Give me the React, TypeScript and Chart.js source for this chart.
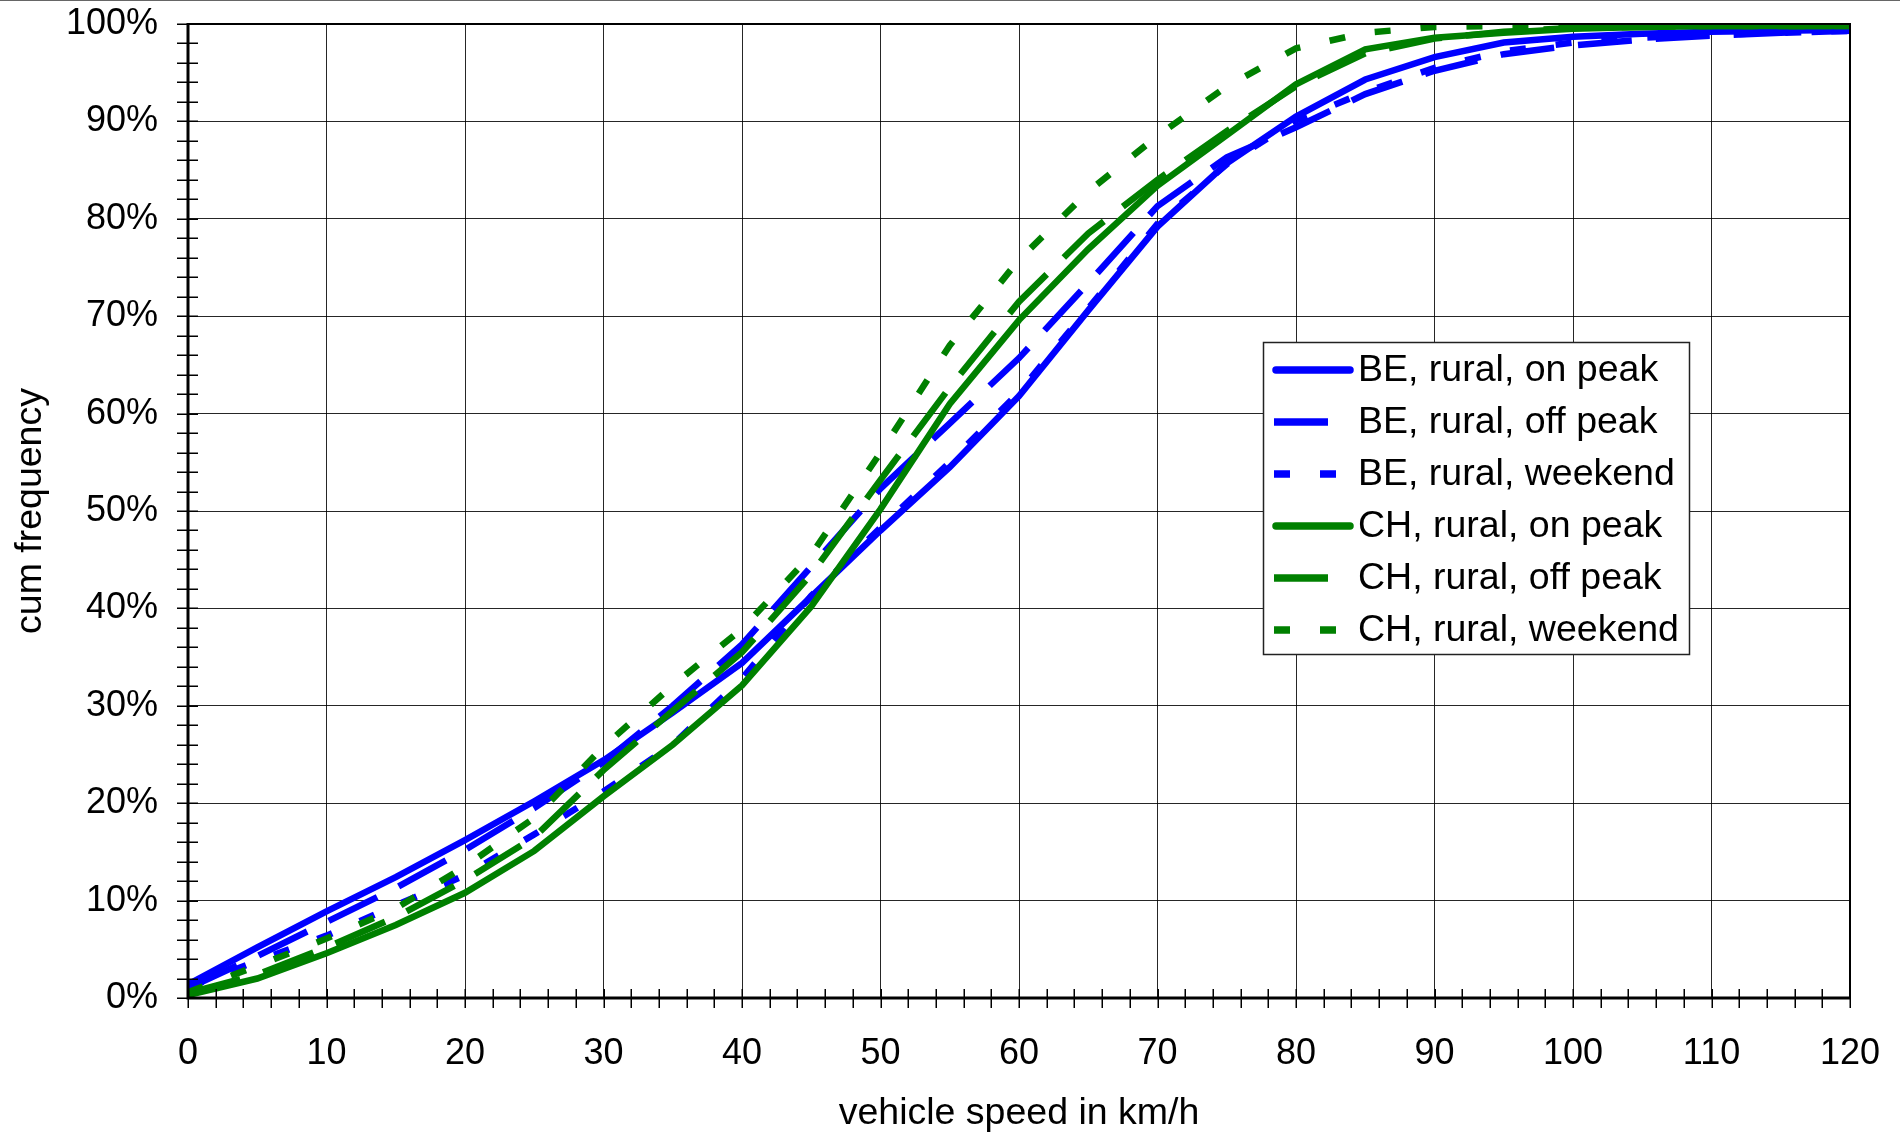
import React, { useEffect, useRef } from 'react';
import { Chart, registerables } from 'chart.js';

Chart.register(...registerables);

// ---- data (cumulative frequency in %, per vehicle speed in km/h) ----
const speeds = [0, 5, 10, 15, 20, 25, 30, 35, 40, 45, 50, 55, 60, 65, 70, 75, 80, 85, 90, 95, 100, 105, 110, 115, 120];

const beRuralOnPeak = [1.4, 5.2, 8.9, 12.4, 16.2, 20.2, 24.4, 29.3, 34.4, 41.2, 48.0, 54.5, 61.8, 70.6, 79.2, 85.7, 90.5, 94.3, 96.6, 98.1, 98.7, 99.0, 99.2, 99.3, 99.4];
const beRuralOffPeak = [1.0, 4.3, 7.8, 11.3, 15.2, 19.5, 24.2, 30.0, 36.3, 44.3, 52.3, 59.0, 65.7, 73.4, 81.3, 86.3, 89.4, 92.8, 95.2, 96.9, 97.8, 98.4, 98.8, 99.1, 99.3];
const beRuralWeekend = [1.1, 3.8, 6.4, 9.5, 12.6, 16.8, 21.2, 26.0, 32.8, 41.3, 48.3, 55.0, 62.2, 70.8, 79.5, 85.6, 90.1, 93.0, 95.5, 97.2, 98.1, 98.6, 98.9, 99.1, 99.3];
const chRuralOnPeak = [0.3, 2.0, 4.6, 7.5, 10.8, 15.1, 20.7, 26.0, 32.1, 40.2, 50.2, 61.0, 69.6, 76.9, 83.4, 88.6, 93.8, 97.4, 98.6, 99.1, 99.5, 99.7, 99.8, 99.8, 99.8];
const chRuralOffPeak = [0.5, 2.4, 5.2, 8.3, 12.1, 16.5, 23.4, 29.5, 35.5, 43.5, 53.2, 62.7, 71.5, 78.5, 84.0, 89.0, 93.6, 97.0, 98.5, 99.2, 99.6, 99.7, 99.8, 99.8, 99.8];
const chRuralWeekend = [0.6, 3.3, 6.1, 9.2, 13.5, 18.5, 25.8, 32.1, 37.9, 45.5, 56.0, 67.0, 75.8, 82.8, 88.5, 93.6, 97.5, 99.1, 99.7, 99.8, 99.8, 99.8, 99.8, 99.8, 99.8];

const seriesLabels = [
  'BE, rural, on peak',
  'BE, rural, off peak',
  'BE, rural, weekend',
  'CH, rural, on peak',
  'CH, rural, off peak',
  'CH, rural, weekend',
];
const seriesValues = [beRuralOnPeak, beRuralOffPeak, beRuralWeekend, chRuralOnPeak, chRuralOffPeak, chRuralWeekend];
const seriesColors = ['#0000ff', '#0000ff', '#0000ff', '#008000', '#008000', '#008000'];
const seriesDash = [[], [54, 24], [16, 30], [], [54, 24], [16, 30]];

const xMin = 0;
const xMax = 120;
const xMajorStep = 10;
const xMinorStep = 2;
const yMin = 0;
const yMax = 100;
const yMajorStep = 10;
const yMinorStep = 2;

const xTitle = 'vehicle speed in km/h';
const yTitle = 'cum frequency';

const FONT = "'Liberation Sans', Arial, Helvetica, sans-serif";

const framePlugin = {
  id: 'frameTicks',
  afterDatasetsDraw(chart: any) {
    const { ctx, chartArea: a, scales } = chart;
    const xs = scales.x;
    const ys = scales.y;
    ctx.save();
    ctx.strokeStyle = '#000';
    ctx.lineWidth = 1.5;
    ctx.beginPath();
    for (let v = xMin; v <= xMax; v += xMinorStep) {
      const px = Math.round(xs.getPixelForValue(v)) + 0.25;
      ctx.moveTo(px, a.bottom - 9);
      ctx.lineTo(px, a.bottom + 10);
    }
    for (let v = yMin; v <= yMax; v += yMinorStep) {
      const py = Math.round(ys.getPixelForValue(v)) + 0.25;
      ctx.moveTo(a.left - 11, py);
      ctx.lineTo(a.left + 10, py);
    }
    ctx.stroke();
    // frame
    ctx.lineWidth = 2;
    ctx.beginPath();
    ctx.moveTo(a.left, a.top);
    ctx.lineTo(a.right, a.top);
    ctx.lineTo(a.right, a.bottom);
    ctx.stroke();
    ctx.lineWidth = 3;
    ctx.beginPath();
    ctx.moveTo(a.left, a.top - 1);
    ctx.lineTo(a.left, a.bottom);
    ctx.lineTo(a.right + 1, a.bottom);
    ctx.stroke();
    ctx.restore();
  },
  afterDraw(chart: any) {
    const { ctx } = chart;
    ctx.save();
    // thin gray line at the very top of the picture
    ctx.strokeStyle = '#666';
    ctx.lineWidth = 1;
    ctx.beginPath();
    ctx.moveTo(0, 0.5);
    ctx.lineTo(chart.width, 0.5);
    ctx.stroke();

    // legend box
    const bx = 1263;
    const by = 342;
    const bw = 426;
    const bh = 312;
    ctx.fillStyle = '#fff';
    ctx.fillRect(bx, by, bw, bh);
    ctx.strokeStyle = '#222';
    ctx.lineWidth = 1.5;
    ctx.strokeRect(bx + 0.5, by + 0.5, bw, bh);
    const datasets = chart.data.datasets;
    ctx.font = `37.5px ${FONT}`;
    ctx.textBaseline = 'middle';
    ctx.textAlign = 'left';
    datasets.forEach((ds: any, i: number) => {
      const cy = by + 28 + i * 52;
      ctx.strokeStyle = ds.borderColor;
      ctx.lineWidth = 7.5;
      const dash = ds.borderDash || [];
      ctx.setLineDash(dash);
      ctx.lineCap = dash.length ? 'butt' : 'round';
      ctx.beginPath();
      if (dash.length) {
        ctx.moveTo(bx + 11, cy);
        ctx.lineTo(bx + 89, cy);
      } else {
        ctx.moveTo(bx + 13, cy);
        ctx.lineTo(bx + 87, cy);
      }
      ctx.stroke();
      ctx.setLineDash([]);
      ctx.fillStyle = '#000';
      ctx.fillText(ds.label, bx + 95, cy + 1);
    });
    ctx.restore();
  },
};

export default function App() {
  const canvasRef = useRef<HTMLCanvasElement | null>(null);

  useEffect(() => {
    if (!canvasRef.current) return;
    const n = seriesValues.length;
    const datasets = seriesValues.map((vals, i) => ({
      label: seriesLabels[i],
      data: speeds.map((s, j) => ({ x: s, y: vals[j] })),
      borderColor: seriesColors[i],
      backgroundColor: seriesColors[i],
      borderWidth: 6.5,
      borderDash: seriesDash[i],
      borderCapStyle: 'butt' as const,
      pointRadius: 0,
      tension: 0,
      fill: false,
      order: n - i,
    }));

    const gridColor = 'rgba(0,0,0,0.85)';
    const chart = new Chart(canvasRef.current, {
      type: 'line',
      data: { datasets },
      options: {
        animation: false,
        responsive: false,
        devicePixelRatio: 1,
        layout: { padding: { top: 24, right: 50, left: 0, bottom: 0 } },
        plugins: {
          legend: { display: false },
          tooltip: { enabled: false },
        },
        scales: {
          x: {
            type: 'linear',
            min: xMin,
            max: xMax,
            border: { display: false },
            grid: { color: gridColor, lineWidth: 1, drawTicks: false },
            ticks: {
              stepSize: xMajorStep,
              autoSkip: false,
              maxRotation: 0,
              padding: 34,
              color: '#000',
              font: { family: FONT, size: 36 },
            },
            title: {
              display: true,
              text: xTitle,
              color: '#000',
              font: { family: FONT, size: 37.5 },
              padding: { top: 0, bottom: 0 },
            },
            afterFit: (scale: any) => {
              scale.height = 138;
              scale.paddingLeft = 0;
              scale.paddingRight = 0;
              scale.paddingTop = 0;
              scale.paddingBottom = 0;
            },
          },
          y: {
            type: 'linear',
            min: yMin,
            max: yMax,
            border: { display: false },
            grid: { color: gridColor, lineWidth: 1, drawTicks: false },
            ticks: {
              stepSize: yMajorStep,
              padding: 30,
              color: '#000',
              font: { family: FONT, size: 36 },
              callback: (v: any) => `${v}%`,
            },
            title: {
              display: true,
              text: yTitle,
              color: '#000',
              font: { family: FONT, size: 37.5 },
              padding: { top: 8, bottom: 0 },
            },
            afterFit: (scale: any) => {
              scale.width = 188;
              scale.paddingLeft = 0;
              scale.paddingRight = 0;
              scale.paddingTop = 0;
              scale.paddingBottom = 0;
            },
          },
        },
      },
      plugins: [framePlugin],
    });
    return () => chart.destroy();
  }, []);

  return (
    <div style={{ position: 'absolute', left: 0, top: 0, width: 1900, height: 1136, background: '#fff' }}>
      <canvas ref={canvasRef} width={1900} height={1136} style={{ display: 'block', width: 1900, height: 1136 }} />
    </div>
  );
}
